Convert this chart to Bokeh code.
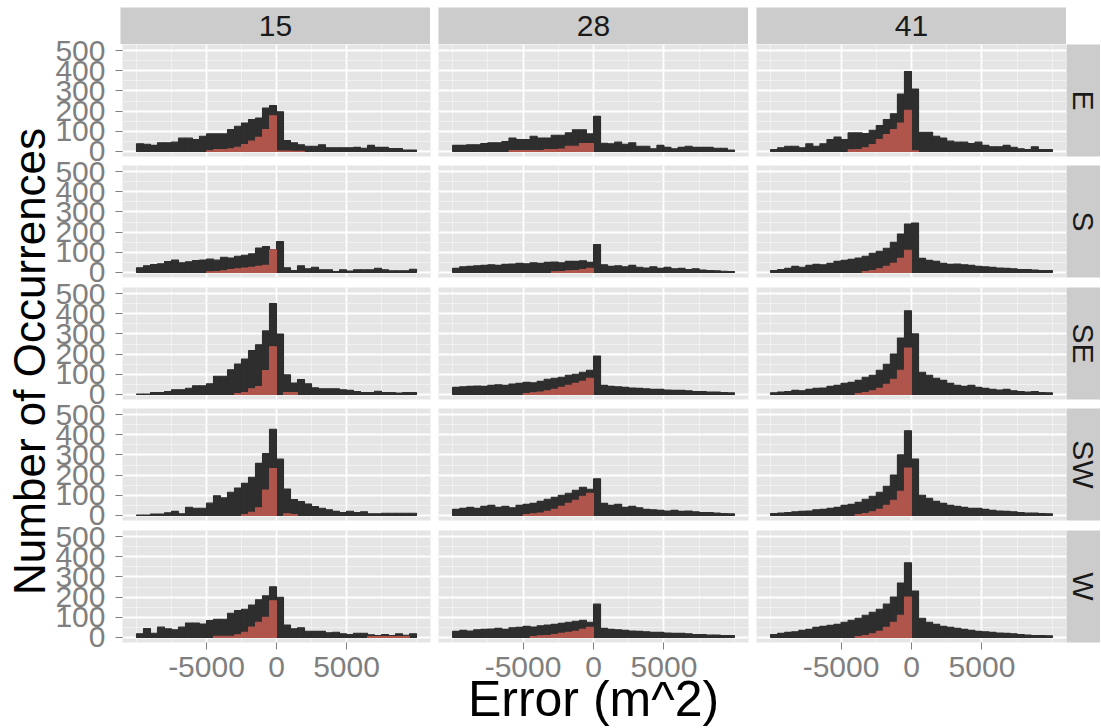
import math
from bokeh.plotting import figure
from bokeh.layouts import row, column
from bokeh.models import Range1d, FixedTicker, Spacer, ColumnDataSource
from bokeh.core.properties import value
from bokeh.embed import file_html
from bokeh.resources import INLINE

# ---------------- data ----------------
col_labels = ["15", "28", "41"]
row_labels = ["E", "S", "SE", "SW", "W"]
bin_edges = list(range(-10000, 10001, 500))
y_ticks = [0, 100, 200, 300, 400, 500]
y_tick_labels = ["0", "100", "200", "300", "400", "500"]
x_ticks = [-5000, 0, 5000]
x_tick_labels = ["-5000", "0", "5000"]
x_title = "Error (m^2)"
y_title = "Number of Occurrences"

tot_E_15 = [38,36,30,43,43,46,66,66,59,75,87,87,87,108,125,141,158,166,215,227,197,54,43,33,26,26,33,18,18,18,18,20,16,30,20,20,15,15,7,7]
red_E_15 = [0,0,0,0,0,0,0,0,0,0,3,10,10,13,21,34,51,70,108,177,2,2,1,1,0,0,0,0,0,0,0,0,0,0,0,0,0,0,0,0]
tot_E_28 = [30,30,33,33,39,43,43,49,67,59,59,75,67,67,80,80,92,107,107,87,174,41,38,46,36,43,26,26,13,30,20,13,20,26,20,20,20,16,16,7]
red_E_28 = [0,0,0,0,0,0,0,0,5,5,5,5,5,10,10,12,26,26,39,39,0,0,0,0,0,0,0,0,0,0,0,0,0,0,0,0,0,0,0,0]
tot_E_41 = [10,18,26,26,18,38,26,38,59,72,59,92,92,89,105,128,158,187,284,396,309,95,95,75,67,51,46,46,39,46,30,23,23,30,21,13,10,23,10,10]
red_E_41 = [0,0,0,0,0,0,0,0,0,0,0,8,10,18,34,59,84,108,141,204,3,0,0,0,0,0,0,0,0,0,0,0,0,0,0,0,0,0,0,0]

tot_S_15 = [23,33,39,43,54,62,48,53,59,62,66,61,75,72,80,85,92,121,128,112,153,23,10,33,18,26,13,13,5,13,7,13,13,13,21,13,8,8,8,16]
red_S_15 = [0,0,0,0,0,0,0,0,0,0,3,5,8,15,18,22,25,30,35,112,0,0,0,0,0,0,0,0,0,0,0,0,0,0,0,0,0,0,0,0]
tot_S_28 = [20,28,30,33,35,38,35,40,42,45,43,48,45,50,52,48,55,55,58,50,138,38,30,33,28,35,26,22,28,20,25,18,20,15,18,12,10,8,6,5]
red_S_28 = [0,0,0,0,0,0,0,0,0,0,0,0,0,0,3,5,8,10,15,20,0,0,0,0,0,0,0,0,0,0,0,0,0,0,0,0,0,0,0,0]
tot_S_41 = [10,15,20,30,26,35,40,38,45,55,60,65,72,80,95,105,120,150,190,240,245,70,60,55,45,40,42,38,35,30,28,25,22,20,18,15,15,12,10,10]
red_S_41 = [0,0,0,0,0,0,0,0,0,0,0,0,0,5,10,18,30,45,70,110,0,0,0,0,0,0,0,0,0,0,0,0,0,0,0,0,0,0,0,0]

tot_SE_15 = [2,2,10,10,15,23,23,31,43,43,53,90,90,122,151,176,217,246,315,450,299,97,57,74,53,33,28,28,28,23,20,15,10,10,16,10,10,7,10,10]
red_SE_15 = [0,0,0,0,0,0,0,0,0,0,0,0,0,0,5,10,28,39,118,236,0,10,10,0,0,0,0,0,0,0,0,0,0,0,0,0,0,0,0,0]
tot_SE_28 = [35,38,40,42,40,45,48,45,52,55,60,58,65,75,80,85,95,100,110,120,190,45,40,38,35,32,30,28,25,25,22,20,20,18,15,15,12,12,10,8]
red_SE_28 = [0,0,0,0,0,0,0,0,0,0,5,8,12,18,25,35,45,55,65,80,0,0,0,0,0,0,0,0,0,0,0,0,0,0,0,0,0,0,0,0]
tot_SE_41 = [8,12,15,20,18,25,30,32,40,45,55,60,70,85,95,120,150,200,280,415,300,110,95,80,70,55,45,40,45,35,30,25,22,25,18,15,12,15,10,8]
red_SE_41 = [0,0,0,0,0,0,0,0,0,0,0,0,5,10,18,30,50,75,120,230,0,0,0,0,0,0,0,0,0,0,0,0,0,0,0,0,0,0,0,0]

tot_SW_15 = [2,2,7,7,13,20,8,41,36,36,61,98,87,115,136,159,189,258,307,427,279,131,79,69,57,44,36,28,20,15,21,15,18,8,8,11,11,11,11,11]
red_SW_15 = [0,0,0,0,0,0,0,0,0,0,0,0,0,0,0,5,16,38,126,233,0,8,5,0,0,0,0,0,0,0,0,0,0,0,0,0,0,0,0,0]
tot_SW_28 = [30,35,40,35,45,50,40,45,38,50,55,60,70,80,90,100,110,125,140,130,182,60,50,55,40,45,38,30,28,25,22,25,20,22,18,15,15,12,10,8]
red_SW_28 = [0,0,0,0,0,0,0,0,0,0,5,8,12,20,30,45,60,75,95,110,0,0,0,0,0,0,0,0,0,0,0,0,0,0,0,0,0,0,0,0]
tot_SW_41 = [10,12,15,18,20,22,28,30,35,40,50,55,65,80,95,115,145,200,300,420,280,100,85,70,60,50,45,40,35,35,30,25,22,20,18,15,12,12,10,8]
red_SW_41 = [0,0,0,0,0,0,0,0,0,0,0,0,5,10,18,30,50,75,120,235,0,0,0,0,0,0,0,0,0,0,0,0,0,0,0,0,0,0,0,0]

tot_W_15 = [18,44,21,51,43,38,51,72,72,67,84,90,90,120,133,140,161,187,207,251,199,62,43,48,31,30,30,23,26,18,15,21,21,13,10,15,10,18,11,18]
red_W_15 = [0,0,0,0,0,0,0,0,0,0,0,6,6,6,13,26,51,75,100,182,0,0,0,0,0,0,0,0,0,0,0,0,0,4,4,4,4,4,4,0]
tot_W_28 = [30,35,32,38,40,42,45,40,48,50,55,52,58,62,65,70,75,80,85,75,165,45,40,38,35,32,30,28,25,25,22,20,20,18,15,15,12,12,10,10]
red_W_28 = [0,0,0,0,0,0,0,0,0,0,0,5,8,10,15,20,25,30,40,50,0,0,0,0,0,0,0,0,0,0,0,0,0,0,0,0,0,0,0,0]
tot_W_41 = [15,20,25,28,35,40,50,55,60,65,75,85,95,110,125,140,165,200,270,370,230,95,75,65,55,50,45,40,35,30,28,25,22,20,18,15,12,10,10,8]
red_W_41 = [0,0,0,0,0,0,0,0,0,0,0,0,5,10,18,30,50,75,110,200,0,0,0,0,0,0,0,0,0,0,0,0,0,0,0,0,0,0,0,0]

totals = {
    ("E", "15"): tot_E_15, ("E", "28"): tot_E_28, ("E", "41"): tot_E_41,
    ("S", "15"): tot_S_15, ("S", "28"): tot_S_28, ("S", "41"): tot_S_41,
    ("SE", "15"): tot_SE_15, ("SE", "28"): tot_SE_28, ("SE", "41"): tot_SE_41,
    ("SW", "15"): tot_SW_15, ("SW", "28"): tot_SW_28, ("SW", "41"): tot_SW_41,
    ("W", "15"): tot_W_15, ("W", "28"): tot_W_28, ("W", "41"): tot_W_41,
}
reds = {
    ("E", "15"): red_E_15, ("E", "28"): red_E_28, ("E", "41"): red_E_41,
    ("S", "15"): red_S_15, ("S", "28"): red_S_28, ("S", "41"): red_S_41,
    ("SE", "15"): red_SE_15, ("SE", "28"): red_SE_28, ("SE", "41"): red_SE_41,
    ("SW", "15"): red_SW_15, ("SW", "28"): red_SW_28, ("SW", "41"): red_SW_41,
    ("W", "15"): red_W_15, ("W", "28"): red_W_28, ("W", "41"): red_W_41,
}

# ---------------- style ----------------
DARK = "#2e2e2e"
RED = "#b0554c"
PANEL = "#e5e5e5"
STRIP = "#cccccc"
GREY50 = "#7f7f7f"
FONT = "Liberation Sans"
TICK_FS = "30px"
STRIP_FS = "30px"
YTITLE_FS = "44px"
XTITLE_FS = "50px"

TOP_PAD = 7
FRAME_W, FRAME_H = 310, 112
TITLE_W = 52
YT_EXTRA = 12      # y-title canvas overlaps the left panels' (transparent) border
LEFT_W = 68
GAP_X = 8
STRIP_W = 34
STRIP_H = 37
ROW_GAPS = [9, 10, 9, 10]
BOTTOM = 50
OVER = 14          # transparent overlap above each panel row (room for tick labels)
UNDER = 10         # transparent overlap below each non-last panel row
XT_H = 65          # x-title figure height
XT_OVER = 30

x_minor = [-10000, -7500, -2500, 2500, 7500, 10000]
y_minor = [50, 150, 250, 350, 450]

centers = [(a + b) / 2 for a, b in zip(bin_edges[:-1], bin_edges[1:])]
bin_w = bin_edges[1] - bin_edges[0]


def base_fig(w, h, ml=0, mr=0, mt=0, mb=0, **kw):
    p = figure(width=w, height=h, output_backend="svg", toolbar_location=None,
               min_border_left=ml, min_border_right=mr,
               min_border_top=mt, min_border_bottom=mb,
               border_fill_color="white", border_fill_alpha=0,
               outline_line_color=None, **kw)
    return p


def row_bottom(ri):
    if ri == len(row_labels) - 1:
        return BOTTOM, 0
    return ROW_GAPS[ri] + UNDER, UNDER


def make_panel(ri, ci):
    rl, cl = row_labels[ri], col_labels[ci]
    last = ri == len(row_labels) - 1
    left = LEFT_W if ci == 0 else 0
    right = GAP_X if ci < 2 else 0
    bottom, _ = row_bottom(ri)
    p = base_fig(left + FRAME_W + right, OVER + FRAME_H + bottom,
                 ml=left, mr=right, mt=OVER, mb=bottom,
                 x_range=Range1d(-11000, 11000), y_range=Range1d(-25, 530),
                 x_axis_location="below" if last else None,
                 y_axis_location="left" if ci == 0 else None,
                 background_fill_color=PANEL)
    p.xgrid.ticker = FixedTicker(ticks=x_ticks, minor_ticks=x_minor)
    p.ygrid.ticker = FixedTicker(ticks=y_ticks, minor_ticks=y_minor)
    for g in (p.xgrid, p.ygrid):
        g.grid_line_color = "white"
        g.grid_line_width = 1.8
        g.minor_grid_line_color = "#f2f2f2"
        g.minor_grid_line_width = 0.9

    tot = totals[(rl, cl)]
    red = reds[(rl, cl)]
    src = ColumnDataSource(dict(x=centers, top=tot))
    p.vbar(x="x", top="top", bottom=0, width=bin_w, source=src,
           fill_color=DARK, line_color=DARK, line_width=1.1)
    rx = [c for c, v in zip(centers, red) if v > 0]
    rv = [v for v in red if v > 0]
    rsrc = ColumnDataSource(dict(x=rx, top=rv))
    p.vbar(x="x", top="top", bottom=0, width=bin_w, source=rsrc,
           fill_color=RED, line_color=RED, line_width=1.1)

    axes = []
    if ci == 0:
        ax = p.yaxis[0]
        ax.ticker = FixedTicker(ticks=y_ticks)
        ax.major_label_overrides = {t: l for t, l in zip(y_ticks, y_tick_labels)}
        ax.major_label_standoff = 10
        axes.append(ax)
    if last:
        ax = p.xaxis[0]
        ax.ticker = FixedTicker(ticks=x_ticks)
        ax.major_label_overrides = {t: l for t, l in zip(x_ticks, x_tick_labels)}
        ax.major_label_standoff = 7
        axes.append(ax)
    for ax in axes:
        ax.axis_line_color = None
        ax.major_tick_line_color = GREY50
        ax.major_tick_out = 7
        ax.major_tick_in = 0
        ax.minor_tick_line_color = None
        ax.major_label_text_font = FONT
        ax.major_label_text_font_size = TICK_FS
        ax.major_label_text_color = GREY50
    return p


def text_fig(w, h, txt, angle, size, color, bg, mt=0, mb=0, tx=0.5, ty=0.5):
    p = base_fig(w, h, mt=mt, mb=mb, x_range=Range1d(0, 1), y_range=Range1d(0, 1),
                 x_axis_location=None, y_axis_location=None,
                 background_fill_color=bg)
    if bg is None:
        p.background_fill_alpha = 0
    p.grid.visible = False
    p.text(x=[tx], y=[ty], text=[txt], angle=angle, text_align="center",
           text_baseline="middle", text_font=value(FONT),
           text_font_size=value(size), text_color=color)
    return p


# top strips
top_items = [Spacer(width=TITLE_W + LEFT_W, height=STRIP_H)]
for ci, cl in enumerate(col_labels):
    top_items.append(text_fig(FRAME_W, STRIP_H, cl, 0, STRIP_FS, "#1a1a1a", STRIP))
    if ci < 2:
        top_items.append(Spacer(width=GAP_X, height=STRIP_H))
top_row = row(*top_items)

panel_rows = []
for ri, rl in enumerate(row_labels):
    bottom, under = row_bottom(ri)
    items = [make_panel(ri, ci) for ci in range(len(col_labels))]
    items.append(text_fig(STRIP_W, OVER + FRAME_H + bottom, rl, -math.pi / 2, STRIP_FS,
                          "#1a1a1a", STRIP, mt=OVER, mb=bottom))
    r = row(*items)
    r.margin = (-OVER, 0, -under, 0)
    panel_rows.append(r)

panels_h = sum(ROW_GAPS) + FRAME_H * len(row_labels)
yt_w = TITLE_W + YT_EXTRA
ytitle = text_fig(yt_w, panels_h, y_title, math.pi / 2, YTITLE_FS, "black", None,
                  tx=28.5 / yt_w, ty=0.47)
left_col = column(ytitle, Spacer(width=yt_w, height=BOTTOM))
left_col.margin = (0, -YT_EXTRA, 0, 0)

xtitle = text_fig(FRAME_W, XT_H, x_title, 0, XTITLE_FS, "black", None, ty=29 / XT_H)
xt_row = row(Spacer(width=TITLE_W + LEFT_W + FRAME_W + GAP_X, height=XT_H), xtitle)
xt_row.margin = (-XT_OVER, 0, 0, 0)

layout = column(Spacer(width=10, height=TOP_PAD), top_row,
                row(left_col, column(*panel_rows)), xt_row)

open("out.html", "w").write(file_html(layout, INLINE))
